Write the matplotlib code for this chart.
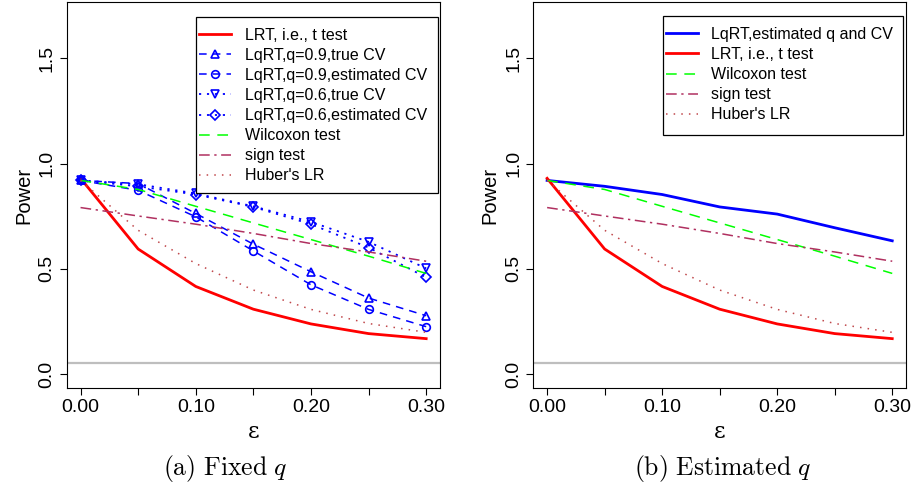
import numpy as np
import matplotlib
matplotlib.use("Agg")
import matplotlib.pyplot as plt
from matplotlib.patches import Rectangle

# ── Data ──────────────────────────────────────────────────────────────────────
eps = [0.00, 0.05, 0.10, 0.15, 0.20, 0.25, 0.30]

lrt        = [0.930, 0.594, 0.416, 0.308, 0.238, 0.192, 0.168]
q09_true   = [0.920, 0.905, 0.763, 0.617, 0.486, 0.361, 0.277]
q09_est    = [0.920, 0.873, 0.747, 0.585, 0.424, 0.307, 0.225]
q06_true   = [0.920, 0.902, 0.858, 0.797, 0.723, 0.628, 0.502]
q06_est    = [0.920, 0.892, 0.853, 0.794, 0.712, 0.601, 0.459]
wilcoxon   = [0.920, 0.877, 0.797, 0.718, 0.639, 0.560, 0.478]
sign_test  = [0.791, 0.751, 0.712, 0.668, 0.620, 0.580, 0.536]
huber      = [0.920, 0.683, 0.525, 0.399, 0.307, 0.240, 0.198]
lqrt_estq  = [0.920, 0.892, 0.853, 0.794, 0.760, 0.695, 0.633]

alpha_level = 0.05

# ── Style ─────────────────────────────────────────────────────────────────────
plt.rcParams["font.family"] = ["Liberation Sans", "DejaVu Sans"]
plt.rcParams["mathtext.fontset"] = "cm"

RED = "#FF0000"
BLUE = "#0000FF"
GREEN = "#00FF00"
MAROON = "#B03060"
HUBER = "#C0474B"
GRAY = "#BEBEBE"

DASH_BLUE = (0, (5, 4))
DOT_BLUE = (0, (1.2, 3.2))
DASH_GREEN = (0, (7, 5))
DOTDASH = (0, (7, 3, 1.5, 3))
DOT_HUBER = (0, (1, 4))

fig = plt.figure(figsize=(9.14, 4.97), dpi=100)
axL = fig.add_axes([0.0730, 0.2187, 0.4084, 0.7773])
axR = fig.add_axes([0.5835, 0.2187, 0.4078, 0.7773])


def style_ax(ax):
    ax.set_xlim(-0.012, 0.312)
    ax.set_ylim(-0.068, 1.768)
    ax.set_xticks(eps)
    ax.set_xticklabels(["0.00", "", "0.10", "", "0.20", "", "0.30"])
    ax.set_yticks([0.0, 0.5, 1.0, 1.5])
    ax.set_yticklabels(["0.0", "0.5", "1.0", "1.5"], rotation=90, va="center")
    ax.tick_params(direction="out", length=5, width=0.8, labelsize=14, pad=3)
    for s in ax.spines.values():
        s.set_linewidth(0.8)
    ax.axhline(alpha_level, color=GRAY, lw=1.6, zorder=1)
    ax.set_xlabel("ε", fontsize=16, family="DejaVu Serif", labelpad=3)
    ax.set_ylabel("Power", fontsize=14.5, labelpad=4)


def boxed_legend(ax, box):
    # box = (x0, y0, x1, y1) in axes fraction; R-style legend frame
    x0, y0, x1, y1 = box
    ax.add_patch(Rectangle((x0, y0), x1 - x0, y1 - y0, transform=ax.transAxes,
                           facecolor="white", edgecolor="black", lw=0.9, zorder=8))
    bb = ax.get_window_extent()
    leg = ax.legend(loc="upper left", fontsize=11.5, frameon=False,
                    borderaxespad=0, borderpad=0, numpoints=1,
                    handlelength=2.0, handletextpad=0.85, labelspacing=0.32,
                    bbox_to_anchor=(x0 + 3 / bb.width, y1 - 11 / bb.height))
    leg.set_zorder(9)
    return leg


# ── (a) Fixed q ───────────────────────────────────────────────────────────────
style_ax(axL)
mk = dict(fillstyle="none", markersize=5.5, markeredgewidth=1.2)
axL.plot(eps, lrt, color=RED, lw=2, label="LRT, i.e., t test")
axL.plot(eps, q09_true, color=BLUE, lw=1.1, ls=DASH_BLUE, marker="^", label="LqRT,q=0.9,true CV", **mk)
axL.plot(eps, q09_est, color=BLUE, lw=1.1, ls=DASH_BLUE, marker="o", label="LqRT,q=0.9,estimated CV", **mk)
axL.plot(eps, q06_true, color=BLUE, lw=1.3, ls=DOT_BLUE, marker="v", label="LqRT,q=0.6,true CV", **mk)
axL.plot(eps, q06_est, color=BLUE, lw=1.3, ls=DOT_BLUE, marker="D", label="LqRT,q=0.6,estimated CV",
         fillstyle="none", markersize=5, markeredgewidth=1.2)
axL.plot(eps, wilcoxon, color=GREEN, lw=1.1, ls=DASH_GREEN, label="Wilcoxon test")
axL.plot(eps, sign_test, color=MAROON, lw=1.1, ls=DOTDASH, label="sign test")
axL.plot(eps, huber, color=HUBER, lw=1.1, ls=DOT_HUBER, label="Huber's LR")
boxed_legend(axL, (0.3464, 0.5048, 0.9938, 0.962))

# ── (b) Estimated q ───────────────────────────────────────────────────────────
style_ax(axR)
axR.plot(eps, lqrt_estq, color=BLUE, lw=2, label="LqRT,estimated q and CV")
axR.plot(eps, lrt, color=RED, lw=2, label="LRT, i.e., t test")
axR.plot(eps, wilcoxon, color=GREEN, lw=1.1, ls=DASH_GREEN, label="Wilcoxon test")
axR.plot(eps, sign_test, color=MAROON, lw=1.1, ls=DOTDASH, label="sign test")
axR.plot(eps, huber, color=HUBER, lw=1.1, ls=DOT_HUBER, label="Huber's LR")
boxed_legend(axR, (0.3472, 0.6565, 0.9928, 0.9638))

# ── Captions ──────────────────────────────────────────────────────────────────
fig.text(0.246, 0.058, r"$\mathrm{(a)\ Fixed}\ q$", ha="center", va="center", fontsize=18.5)
fig.text(0.791, 0.058, r"$\mathrm{(b)\ Estimated}\ q$", ha="center", va="center", fontsize=18.5)

plt.savefig("out.png", dpi=100)
plt.close()
